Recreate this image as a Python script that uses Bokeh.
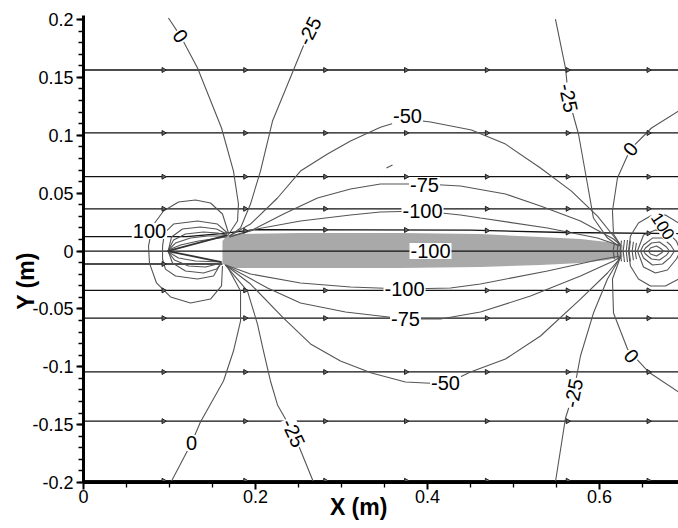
import numpy as np
from bokeh.plotting import figure
from bokeh.models import FixedTicker, CustomJSTickFormatter
from bokeh.embed import file_html
from bokeh.resources import INLINE
from bokeh.core.properties import value

# ---------------- axis ticks ----------------
x_ticks = [0.0, 0.2, 0.4, 0.6]
x_tick_labels = ["0", "0.2", "0.4", "0.6"]
x_minor = [0.05, 0.1, 0.15, 0.25, 0.3, 0.35, 0.45, 0.5, 0.55, 0.65]
y_ticks = [-0.2, -0.15, -0.1, -0.05, 0.0, 0.05, 0.1, 0.15, 0.2]
y_tick_labels = ["-0.2", "-0.15", "-0.1", "-0.05", "0", "0.05", "0.1", "0.15", "0.2"]
y_minor = [round(v, 2) for v in np.arange(-0.2, 0.2001, 0.01)]
x_title = "X (m)"
y_title = "Y (m)"

# ---------------- body (grey shaded region) ----------------
body_x = [0.1616, 0.1663, 0.1767, 0.2523, 0.3686, 0.4616, 0.5314, 0.5779, 0.6093, 0.6267,
          0.6267, 0.6093, 0.5779, 0.5314, 0.4616, 0.3686, 0.2523, 0.1767, 0.1663, 0.1616]
body_y = [0.0086, 0.0130, 0.0147, 0.0156, 0.0156, 0.0147, 0.0121, 0.0104, 0.0078, 0.0052,
          -0.0052, -0.0078, -0.0104, -0.0121, -0.0138, -0.0147, -0.0147, -0.0147, -0.0138, -0.0104]

# ---------------- streamlines ----------------
stream_levels = [0.1564, 0.1020, 0.0642, 0.0365, 0.0, -0.0340, -0.0580, -0.1045, -0.1470, -0.1985]
stream_near_x = [0.0, 0.12, 0.16, 0.20, 0.45, 0.56, 0.6919]
stream_near_y = [0.0125, 0.0125, 0.0150, 0.0185, 0.0180, 0.0160, 0.0150]
stream_short_x = [0.0, 0.1616]
stream_short_y = [-0.0112, -0.0112]
arrow_x = [0.093, 0.188, 0.281, 0.375, 0.469, 0.563, 0.657]

# ---------------- pressure contour lines ----------------
c_zero_ul_x = [0.0988, 0.1128, 0.1326, 0.1605, 0.1744, 0.1802, 0.1791, 0.1674]
c_zero_ul_y = [0.2013, 0.1857, 0.1581, 0.1063, 0.0691, 0.0406, 0.0259, 0.0130]
c_m25_ul_x = [0.2733, 0.2628, 0.2442, 0.2198, 0.2058, 0.1942, 0.1826, 0.1698]
c_m25_ul_y = [0.2004, 0.1901, 0.1564, 0.1123, 0.0691, 0.0406, 0.0199, 0.0130]
c_m50_up_x = [0.1698, 0.1942, 0.2256, 0.2523, 0.2837, 0.3105, 0.3453, 0.3767, 0.4035, 0.4512,
              0.4907, 0.5314, 0.5674, 0.5977, 0.6163, 0.6244]
c_m50_up_y = [0.0130, 0.0233, 0.0458, 0.0691, 0.0838, 0.0950, 0.1070, 0.1140, 0.1115, 0.1045,
              0.0924, 0.0717, 0.0518, 0.0302, 0.0130, 0.0052]
c_m75_up_x = [0.1698, 0.1942, 0.2326, 0.2721, 0.3105, 0.3453, 0.3965, 0.4384, 0.4907, 0.5314,
              0.5779, 0.6163, 0.6244]
c_m75_up_y = [0.0121, 0.0173, 0.0320, 0.0458, 0.0536, 0.0579, 0.0579, 0.0562, 0.0492, 0.0389,
              0.0259, 0.0104, 0.0052]
c_m100_up_x = [0.1698, 0.1942, 0.2523, 0.3105, 0.3453, 0.3942, 0.4384, 0.4616, 0.5395, 0.5977, 0.6244]
c_m100_up_y = [0.0121, 0.0181, 0.0259, 0.0311, 0.0337, 0.0346, 0.0311, 0.0285, 0.0199, 0.0112, 0.0043]
c_m100_lo_x = [0.1651, 0.1942, 0.2523, 0.3105, 0.3733, 0.4267, 0.4616, 0.5395, 0.5977, 0.6244]
c_m100_lo_y = [-0.0121, -0.0199, -0.0276, -0.0311, -0.0328, -0.0320, -0.0285, -0.0173, -0.0078, -0.0043]
c_m75_lo_x = [0.1651, 0.2140, 0.2523, 0.3047, 0.3744, 0.4151, 0.4616, 0.5198, 0.5779, 0.6163, 0.6244]
c_m75_lo_y = [-0.0121, -0.0320, -0.0449, -0.0527, -0.0587, -0.0587, -0.0527, -0.0389, -0.0216,
              -0.0086, -0.0052]
c_m50_lo_x = [0.1651, 0.1942, 0.2326, 0.2640, 0.2988, 0.3349, 0.3744, 0.4209, 0.4500, 0.4907,
              0.5314, 0.5779, 0.6093, 0.6244]
c_m50_lo_y = [-0.0121, -0.0285, -0.0579, -0.0803, -0.0950, -0.1054, -0.1132, -0.1149, -0.1045,
              -0.0933, -0.0734, -0.0415, -0.0190, -0.0060]
c_m25_ll_x = [0.1651, 0.1907, 0.2023, 0.2093, 0.2174, 0.2256, 0.2442, 0.2674]
c_m25_ll_y = [-0.0121, -0.0346, -0.0631, -0.0864, -0.1123, -0.1330, -0.1572, -0.1996]
c_zero_ll_x = [0.1663, 0.1826, 0.1826, 0.1744, 0.1628, 0.1360, 0.1256, 0.1012]
c_zero_ll_y = [-0.0121, -0.0346, -0.0605, -0.0864, -0.1123, -0.1477, -0.1659, -0.2004]
c_m25_ur_x = [0.5488, 0.5605, 0.5640, 0.5756, 0.5860, 0.5930, 0.6093, 0.6221]
c_m25_ur_y = [0.2004, 0.1581, 0.1322, 0.1011, 0.0579, 0.0285, 0.0112, 0.0043]
c_m25_lr_x = [0.6244, 0.6093, 0.5930, 0.5779, 0.5698, 0.5605, 0.5488]
c_m25_lr_y = [-0.0052, -0.0242, -0.0536, -0.0907, -0.1227, -0.1443, -0.1996]
c_zero_ur_x = [0.6919, 0.6605, 0.6360, 0.6209, 0.6151, 0.6163, 0.6244]
c_zero_ur_y = [0.1210, 0.1063, 0.0881, 0.0631, 0.0346, 0.0147, 0.0052]
c_zero_lr_x = [0.6244, 0.6151, 0.6163, 0.6326, 0.6570, 0.6919]
c_zero_lr_y = [-0.0052, -0.0242, -0.0536, -0.0847, -0.1045, -0.1218]
c_dash_x = [0.3523, 0.3593]
c_dash_y = [0.0717, 0.0743]

# nose region (stagnation, x ~ 0.1)
nose_outer_x = [0.1686, 0.1616, 0.1477, 0.1302, 0.1105, 0.0930, 0.0802, 0.0756, 0.0767, 0.0849,
                0.1012, 0.1244, 0.1477, 0.1605, 0.1616]
nose_outer_y = [0.0156, 0.0320, 0.0415, 0.0441, 0.0423, 0.0346, 0.0216, 0.0043, -0.0104, -0.0276,
                -0.0397, -0.0449, -0.0415, -0.0302, -0.0130]
nose_100_x = [0.1674, 0.1558, 0.1326, 0.1047, 0.0942, 0.0919, 0.0919, 0.0953, 0.1070, 0.1326, 0.1512, 0.1593]
nose_100_y = [0.0156, 0.0233, 0.0259, 0.0233, 0.0156, 0.0043, -0.0069, -0.0156, -0.0216, -0.0242, -0.0216, -0.0112]
nose_l1_x = [0.0988, 0.1023, 0.1151, 0.1360, 0.1547, 0.1663]
nose_l1_y = [0.0009, 0.0121, 0.0190, 0.0207, 0.0190, 0.0147]
nose_l2_x = [0.0988, 0.1047, 0.1186, 0.1395, 0.1558, 0.1663]
nose_l2_y = [0.0009, 0.0095, 0.0147, 0.0164, 0.0156, 0.0138]
nose_l3_x = [0.0988, 0.1070, 0.1244, 0.1442, 0.1663]
nose_l3_y = [0.0009, 0.0069, 0.0112, 0.0130, 0.0130]
nose_l4_x = [0.0988, 0.1128, 0.1337, 0.1663]
nose_l4_y = [0.0009, 0.0052, 0.0086, 0.0121]
nose_wu_x = [0.0977, 0.1674]
nose_wu_y = [0.0, 0.0138]
nose_m1_x = [0.0988, 0.1035, 0.1186, 0.1395, 0.1547, 0.1605]
nose_m1_y = [-0.0009, -0.0104, -0.0173, -0.0190, -0.0156, -0.0104]
nose_m2_x = [0.0988, 0.1058, 0.1221, 0.1419, 0.1605]
nose_m2_y = [-0.0009, -0.0078, -0.0130, -0.0138, -0.0104]
nose_m3_x = [0.0988, 0.1105, 0.1302, 0.1605]
nose_m3_y = [-0.0009, -0.0060, -0.0086, -0.0095]
nose_wl_x = [0.0977, 0.1605]
nose_wl_y = [0.0, -0.0095]

# tail region rings (x ~ 0.665)
tail_r1_x = [0.6919, 0.6767, 0.6593, 0.6453, 0.6360, 0.6337, 0.6360, 0.6453, 0.6593, 0.6767, 0.6919]
tail_r1_y = [0.0242, 0.0311, 0.0302, 0.0242, 0.0130, 0.0, -0.0130, -0.0242, -0.0302, -0.0302, -0.0242]
tail_r2_x = [0.6942, 0.6895, 0.6791, 0.6651, 0.6512, 0.6442, 0.6512, 0.6651, 0.6791, 0.6895, 0.6942]
tail_r2_y = [0.0, 0.0086, 0.0164, 0.0181, 0.0138, 0.0, -0.0138, -0.0190, -0.0164, -0.0069, 0.0]
tail_r3_x = [0.6872, 0.6826, 0.6733, 0.6616, 0.6512, 0.6477, 0.6512, 0.6616, 0.6733, 0.6826, 0.6872]
tail_r3_y = [0.0, 0.0052, 0.0112, 0.0112, 0.0052, 0.0, -0.0060, -0.0121, -0.0112, -0.0052, 0.0]
tail_r4_x = [0.6814, 0.6779, 0.6698, 0.6605, 0.6535, 0.6512, 0.6535, 0.6605, 0.6698, 0.6779, 0.6814]
tail_r4_y = [0.0, 0.0035, 0.0078, 0.0069, 0.0026, 0.0, -0.0026, -0.0069, -0.0078, -0.0035, 0.0]
tail_r5_x = [0.6744, 0.6721, 0.6663, 0.6593, 0.6570, 0.6593, 0.6663, 0.6721, 0.6744]
tail_r5_y = [0.0, 0.0017, 0.0043, 0.0026, 0.0, -0.0026, -0.0043, -0.0017, 0.0]
tail_hatch_x = [0.6174, 0.6221, 0.6256, 0.6291, 0.6326, 0.6360, 0.6395, 0.6430]
tail_hatch_h = [0.0070, 0.0080, 0.0090, 0.0095, 0.0095, 0.0090, 0.0080, 0.0070]

# ---------------- contour labels ----------------
lab_text = ["0", "-25", "-50", "-75", "-100", "-100", "-100", "-75", "-50", "-25", "0",
            "-25", "-25", "0", "0", "100", "100"]
lab_x = [0.1128, 0.2628, 0.3767, 0.3965, 0.3942, 0.4035, 0.3733, 0.3744, 0.4209, 0.2442, 0.1256,
         0.5640, 0.5698, 0.6360, 0.6372, 0.0767, 0.6738]
lab_y = [0.1857, 0.1901, 0.1166, 0.0570, 0.0346, 0.0, -0.0328, -0.0587, -0.1140, -0.1572, -0.1659,
         0.1322, -0.1227, 0.0881, -0.0907, 0.0173, 0.0215]
lab_angle = [-55, 63, 0, 0, 0, 0, 0, 0, 0, -65, 0, -78, 78, 50, -50, 0, -57]
lab_size = ["20px"] * 16 + ["17px"]

# ---------------- figure ----------------
p = figure(width=678, height=528, x_range=(0, 0.6919), y_range=(-0.2, 0.2035),
           output_backend="svg", toolbar_location=None,
           min_border_left=83, min_border_right=0, min_border_top=15, min_border_bottom=46)
p.xgrid.visible = False
p.ygrid.visible = False
p.outline_line_color = None
p.background_fill_color = "white"
p.border_fill_color = "white"

p.xaxis.ticker = FixedTicker(ticks=x_ticks, minor_ticks=x_minor)
p.yaxis.ticker = FixedTicker(ticks=y_ticks, minor_ticks=y_minor)
fmt_code = ("for (let i = 0; i < vals.length; i++) {"
            " if (Math.abs(vals[i] - tick) < 1e-9) return labs[i]; } return '';")
p.xaxis.formatter = CustomJSTickFormatter(args=dict(vals=x_ticks, labs=x_tick_labels), code=fmt_code)
p.yaxis.formatter = CustomJSTickFormatter(args=dict(vals=y_ticks, labs=y_tick_labels), code=fmt_code)
for ax in (p.xaxis[0], p.yaxis[0]):
    ax.axis_line_width = 3
    ax.axis_line_color = "black"
    ax.major_tick_line_width = 2
    ax.major_tick_line_color = "black"
    ax.major_tick_out = 7
    ax.major_tick_in = 0
    ax.minor_tick_out = 5
    ax.minor_tick_in = 0
    ax.minor_tick_line_width = 1.3
    ax.minor_tick_line_color = "black"
    ax.major_label_text_font = "Liberation Sans"
    ax.major_label_text_font_size = "18px"
    ax.major_label_text_color = "black"
    ax.axis_label_text_font = "Liberation Sans"
    ax.axis_label_text_font_style = "bold"
    ax.axis_label_text_font_size = "23px"
    ax.axis_label_text_color = "black"
p.yaxis.major_label_standoff = 3
p.xaxis.major_label_standoff = 0
# titles sit off-centre in the reference: pad with trailing no-break spaces
p.xaxis.axis_label = x_title + "\u00a0" * 7
p.yaxis.axis_label = y_title + "\u00a0" * 10
p.xaxis.axis_label_standoff = -12
p.yaxis.axis_label_standoff = -10

# body
p.patch(body_x, body_y, fill_color="#a9a9a9", line_color=None)

# streamlines
s_xs = [[0.0, 0.6919] for _ in stream_levels] + [stream_near_x, stream_short_x]
s_ys = [[lv, lv] for lv in stream_levels] + [stream_near_y, stream_short_y]
p.multi_line(s_xs, s_ys, line_color="#111111", line_width=1.3)

# contours
c_xs = [c_zero_ul_x, c_m25_ul_x, c_m50_up_x, c_m75_up_x, c_m100_up_x, c_m100_lo_x, c_m75_lo_x,
        c_m50_lo_x, c_m25_ll_x, c_zero_ll_x, c_m25_ur_x, c_m25_lr_x, c_zero_ur_x, c_zero_lr_x, c_dash_x,
        nose_outer_x, nose_100_x, nose_l1_x, nose_l2_x, nose_l3_x, nose_l4_x, nose_m1_x, nose_m2_x,
        nose_m3_x, tail_r1_x, tail_r2_x, tail_r3_x, tail_r4_x, tail_r5_x]
c_ys = [c_zero_ul_y, c_m25_ul_y, c_m50_up_y, c_m75_up_y, c_m100_up_y, c_m100_lo_y, c_m75_lo_y,
        c_m50_lo_y, c_m25_ll_y, c_zero_ll_y, c_m25_ur_y, c_m25_lr_y, c_zero_ur_y, c_zero_lr_y, c_dash_y,
        nose_outer_y, nose_100_y, nose_l1_y, nose_l2_y, nose_l3_y, nose_l4_y, nose_m1_y, nose_m2_y,
        nose_m3_y, tail_r1_y, tail_r2_y, tail_r3_y, tail_r4_y, tail_r5_y]
for hx, hh in zip(tail_hatch_x, tail_hatch_h):
    c_xs.append([hx, hx - 0.0015, hx])
    c_ys.append([hh, 0.0, -hh])
p.multi_line(c_xs, c_ys, line_color="#555555", line_width=1.1)
p.multi_line([nose_wu_x, nose_wl_x], [nose_wu_y, nose_wl_y], line_color="#333333", line_width=1.8)

# arrow heads on streamlines
ax_pts, ay_pts = [], []
for lv in stream_levels:
    if lv == 0.0:
        continue
    for xa in arrow_x:
        ax_pts.append(xa)
        ay_pts.append(lv)
for xa in arrow_x[1:]:
    ax_pts.append(xa)
    ay_pts.append(float(np.interp(xa, stream_near_x, stream_near_y)))
ax_pts.append(arrow_x[0])
ay_pts.append(stream_short_y[0])
p.scatter(ax_pts, ay_pts, marker="triangle", angle=-90, angle_units="deg", size=5,
          line_color="#222222", fill_color="#666666", line_width=1)

# contour labels
p.text(x=lab_x, y=lab_y, text=lab_text, angle=lab_angle, angle_units="deg",
       text_font=value("Liberation Sans"), text_font_size=lab_size, text_color="black",
       text_align="center", text_baseline="middle",
       background_fill_color="white", padding=1)

open("out.html", "w").write(file_html(p, INLINE))
